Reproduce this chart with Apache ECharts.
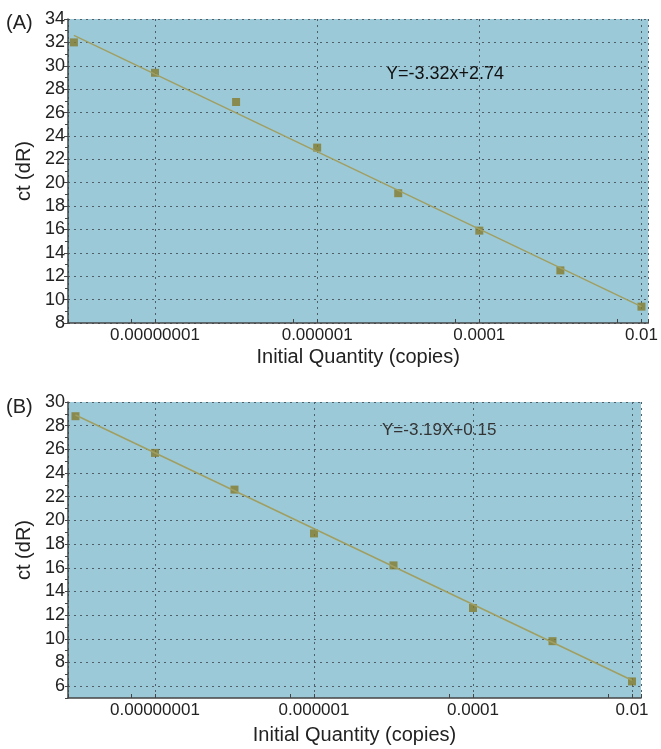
<!DOCTYPE html>
<html>
<head>
<meta charset="utf-8">
<script src="https://cdn.jsdelivr.net/npm/echarts@6/dist/echarts.min.js"></script>
<style>
  html, body { margin: 0; padding: 0; background: #fff; }
  #chart { width: 661px; height: 749px; }
</style>
</head>
<body>
<div id="chart"></div>
<script>
// panel A: standard curve
var quantityA = [1e-9, 1e-8, 1e-7, 1e-6, 1e-5, 1e-4, 1e-3, 1e-2];
var ctA = [32.0, 29.4, 26.9, 23.0, 19.1, 15.9, 12.5, 9.4];
var fitXA = [1e-9, 1e-2];
var fitYA = [32.6, 9.4];

// panel B
var quantityB = [1e-9, 1e-8, 1e-7, 1e-6, 1e-5, 1e-4, 1e-3, 1e-2];
var ctB = [28.8, 25.7, 22.6, 18.9, 16.2, 12.6, 9.8, 6.4];
var fitXB = [1e-9, 1e-2];
var fitYB = [28.9, 6.5];

var FONT = '"Liberation Sans", Arial, sans-serif';
var gridDots = { color: '#4f5f6a', width: 1, type: [2, 4] };

function pairs(xs, ys) {
  return xs.map(function (x, i) { return [x, ys[i]]; });
}

function decimalLabel(v) {
  var p = Math.round(Math.log10(v));
  return p < 0 ? v.toFixed(-p) : String(Math.round(v));
}

function xAxisFor(gridIndex, min, max, gap) {
  return {
    type: 'log',
    logBase: 100,
    gridIndex: gridIndex,
    min: min,
    max: max,
    name: 'Initial Quantity (copies)',
    nameLocation: 'middle',
    nameGap: gap,
    nameTextStyle: { fontFamily: FONT, fontSize: 20, color: '#222' },
    axisLine: { lineStyle: { color: '#444', width: 1.5 } },
    axisTick: { show: true, inside: true, length: 4, lineStyle: { color: '#444' } },
    minorTick: { show: true, splitNumber: 2, length: 4, lineStyle: { color: '#444' } },
    axisLabel: {
      fontFamily: FONT, fontSize: 17, color: '#222', margin: 4,
      showMinLabel: false, showMaxLabel: false,
      formatter: decimalLabel
    },
    splitLine: { show: true, lineStyle: gridDots }
  };
}

var chart = echarts.init(document.getElementById('chart'));

chart.setOption({
  animation: false,
  backgroundColor: '#fff',
  grid: [
    { left: 68, top: 19, width: 587, height: 304, show: true, backgroundColor: '#9cc9d8', borderWidth: 0 },
    { left: 68, top: 402, width: 573, height: 296, show: true, backgroundColor: '#9cc9d8', borderWidth: 0 }
  ],
  xAxis: [
    xAxisFor(0, Math.pow(10, -9.073), Math.pow(10, -1.915), 24),
    xAxisFor(1, Math.pow(10, -9.094), Math.pow(10, -1.887), 27)
  ],
  yAxis: [
    {
      type: 'value', gridIndex: 0, min: 8, max: 34, interval: 2,
      name: 'ct (dR)', nameLocation: 'middle', nameGap: 27,
      nameTextStyle: { fontFamily: FONT, fontSize: 20, color: '#222' },
      axisLine: { show: true, lineStyle: { color: '#444', width: 1.5 } },
      axisTick: { show: true, length: 4, lineStyle: { color: '#444' } },
      minorTick: { show: true, splitNumber: 2, length: 3, lineStyle: { color: '#444' } },
      axisLabel: { fontFamily: FONT, fontSize: 18, color: '#222', margin: 3 },
      splitLine: { show: true, lineStyle: gridDots }
    },
    {
      type: 'value', gridIndex: 1, min: 5, max: 30, interval: 1,
      name: 'ct (dR)', nameLocation: 'middle', nameGap: 27,
      nameTextStyle: { fontFamily: FONT, fontSize: 20, color: '#222' },
      axisLine: { show: true, lineStyle: { color: '#444', width: 1.5 } },
      axisTick: { show: true, length: 3, lineStyle: { color: '#444' } },
      axisLabel: {
        fontFamily: FONT, fontSize: 18, color: '#222', margin: 3,
        formatter: function (v) { return v % 2 === 0 ? String(v) : ''; }
      },
      splitLine: { show: true, lineStyle: { color: ['rgba(0,0,0,0)', '#4f5f6a'], width: 1, type: [2, 4] } }
    }
  ],
  series: [
    {
      type: 'line', xAxisIndex: 0, yAxisIndex: 0,
      data: pairs(fitXA, fitYA), showSymbol: false, silent: true,
      lineStyle: { color: '#a09f62', width: 1.5 }
    },
    {
      type: 'scatter', xAxisIndex: 0, yAxisIndex: 0,
      data: pairs(quantityA, ctA), symbol: 'rect', symbolSize: 8,
      itemStyle: { color: '#857a2c' }
    },
    {
      type: 'line', xAxisIndex: 1, yAxisIndex: 1,
      data: pairs(fitXB, fitYB), showSymbol: false, silent: true,
      lineStyle: { color: '#a09f62', width: 1.5 }
    },
    {
      type: 'scatter', xAxisIndex: 1, yAxisIndex: 1,
      data: pairs(quantityB, ctB), symbol: 'rect', symbolSize: 8,
      itemStyle: { color: '#857a2c' }
    }
  ],
  graphic: [
    { type: 'text', left: 6, top: 13, style: { text: '(A)', font: '20px ' + FONT, fill: '#222' } },
    { type: 'text', left: 6, top: 397, style: { text: '(B)', font: '20px ' + FONT, fill: '#222' } },
    { type: 'text', left: 386, top: 65, style: { text: 'Y=-3.32x+2.74', font: '18px ' + FONT, fill: '#111' } },
    { type: 'text', left: 382, top: 422, style: { text: 'Y=-3.19X+0.15', font: '17px ' + FONT, fill: '#333' } }
  ]
});
</script>
</body>
</html>
